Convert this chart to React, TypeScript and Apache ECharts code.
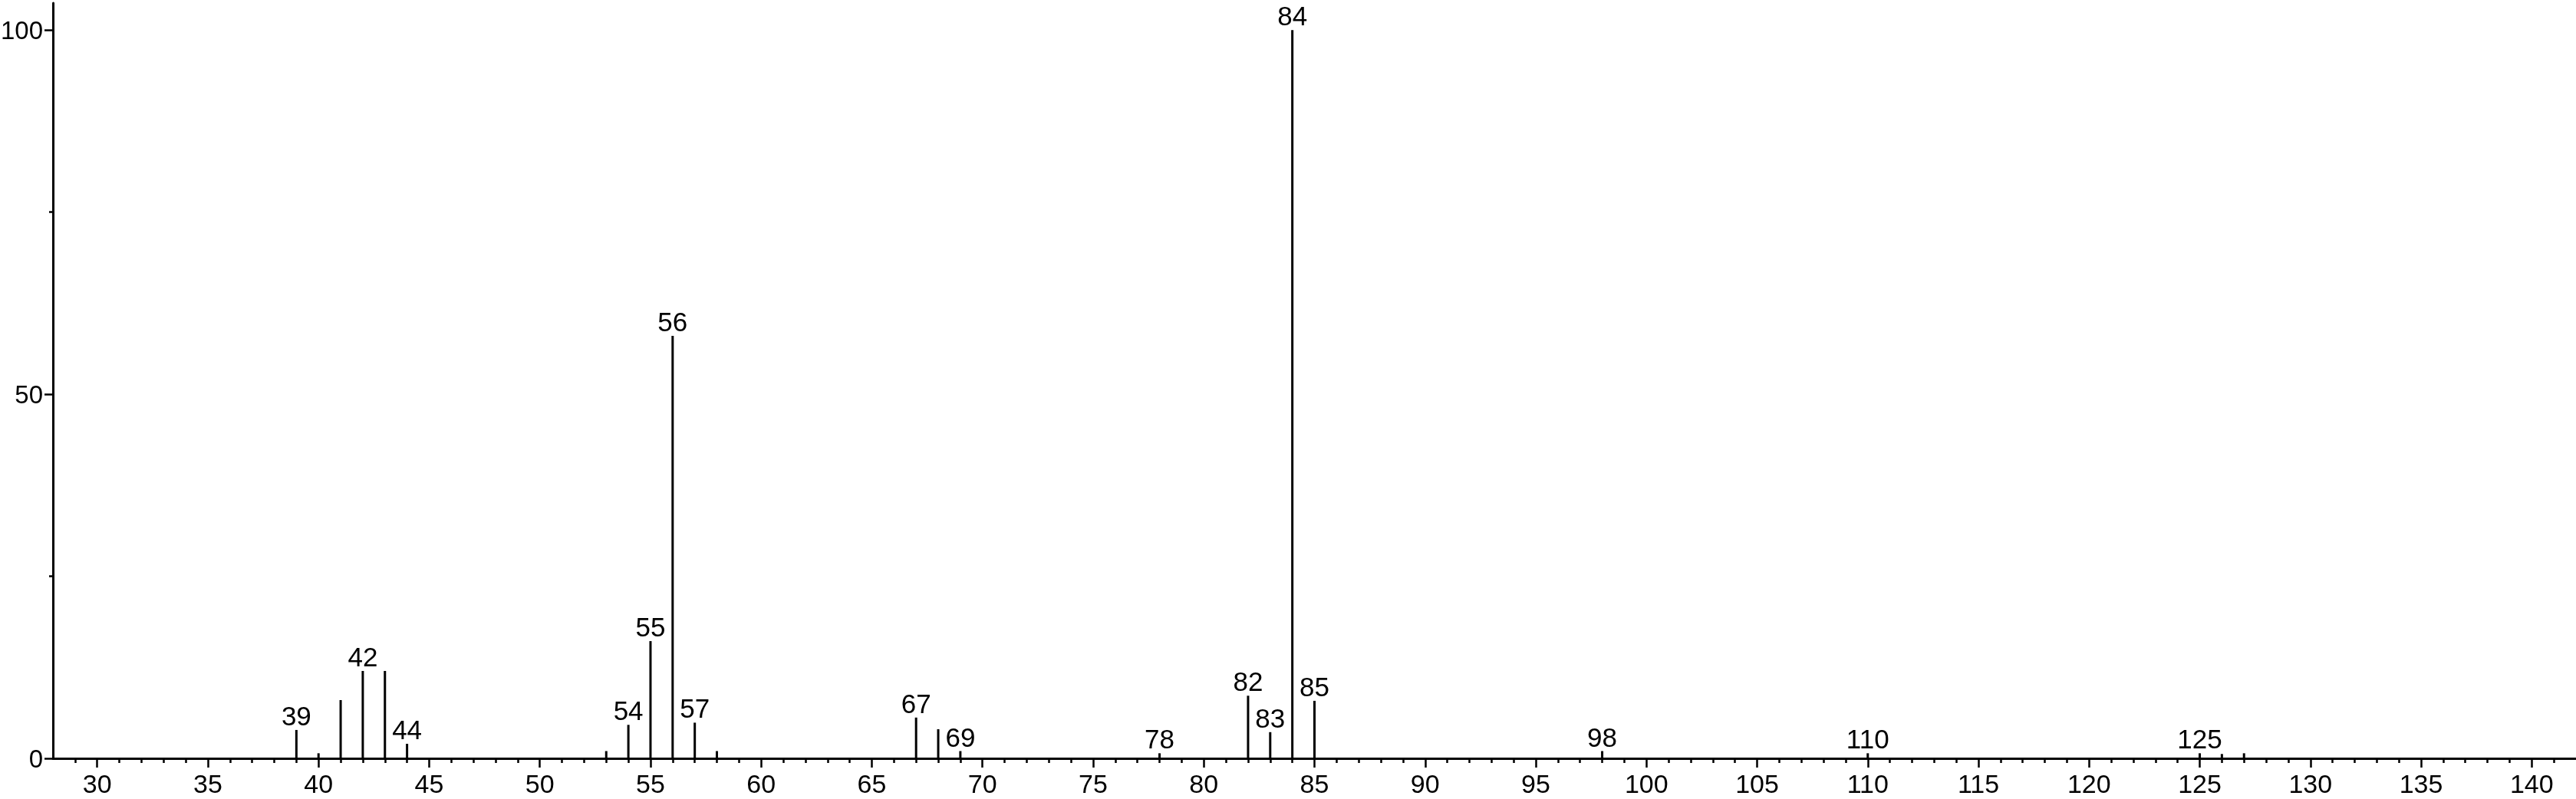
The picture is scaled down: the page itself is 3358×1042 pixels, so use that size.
import React, { useEffect, useRef } from "react";
import * as echarts from "echarts";

const mzValues = [39, 40, 41, 42, 43, 44, 53, 54, 55, 56, 57, 58, 67, 68, 69, 78, 82, 83, 84, 85, 98, 110, 125, 126, 127];
const intensities = [3.9, 0.7, 8, 12, 12, 2, 1, 4.6, 16.1, 58, 4.9, 1, 5.6, 4, 1, 0.7, 8.6, 3.6, 100, 7.9, 1, 0.7, 0.7, 0.6, 0.7];
const labeledPeaks = [39, 42, 44, 54, 55, 56, 57, 67, 69, 78, 82, 83, 84, 85, 98, 110, 125];
const xMajorTicks = [30, 35, 40, 45, 50, 55, 60, 65, 70, 75, 80, 85, 90, 95, 100, 105, 110, 115, 120, 125, 130, 135, 140];
const yMajorTicks = [0, 50, 100];
const yMinorTicks = [25, 75];
const X_MIN = 28;
const X_MAX = 142;
const Y_MIN = 0;
const Y_MAX = 103.7;

const FONT = "'Liberation Sans', Arial, sans-serif";

export default function App() {
  const ref = useRef<HTMLDivElement>(null);
  useEffect(() => {
    document.body.style.margin = "0";
    const chart = echarts.init(ref.current!, null, { renderer: "svg" });
    const xMinorTicks: number[] = [];
    for (let v = X_MIN + 1; v < X_MAX; v++) {
      if (!xMajorTicks.includes(v)) xMinorTicks.push(v);
    }
    const data = mzValues.map((mz, i) => ({
      value: [mz, intensities[i]],
      label: { show: labeledPeaks.includes(mz) },
    }));
    chart.setOption({
      animation: false,
      grid: { left: 69, right: 0, top: 4, bottom: 53, containLabel: false, outerBoundsMode: "none" },
      xAxis: [
        {
          type: "value",
          min: X_MIN,
          max: X_MAX,
          position: "bottom",
          splitLine: { show: false },
          axisLine: { show: true, onZero: false, lineStyle: { color: "#000", width: 3 } },
          axisTick: { show: true, length: 12, customValues: xMajorTicks, lineStyle: { color: "#000", width: 2.5 } },
          axisLabel: { show: true, customValues: xMajorTicks, margin: 16, color: "#000", fontSize: 34, fontFamily: FONT },
        },
        {
          type: "value",
          min: X_MIN,
          max: X_MAX,
          position: "bottom",
          splitLine: { show: false },
          axisLine: { show: false },
          axisTick: { show: true, length: 6, customValues: xMinorTicks, lineStyle: { color: "#000", width: 2.5 } },
          axisLabel: { show: false },
        },
      ],
      yAxis: [
        {
          type: "value",
          min: Y_MIN,
          max: Y_MAX,
          position: "left",
          splitLine: { show: false },
          axisLine: { show: true, onZero: false, lineStyle: { color: "#000", width: 3 } },
          axisTick: { show: true, length: 11, customValues: yMajorTicks, lineStyle: { color: "#000", width: 2.5 } },
          axisLabel: { show: true, customValues: yMajorTicks, margin: 13, color: "#000", fontSize: 33, fontFamily: FONT },
        },
        {
          type: "value",
          min: Y_MIN,
          max: Y_MAX,
          position: "left",
          splitLine: { show: false },
          axisLine: { show: false },
          axisTick: { show: true, length: 5, customValues: yMinorTicks, lineStyle: { color: "#000", width: 2.5 } },
          axisLabel: { show: false },
        },
      ],
      series: [
        {
          type: "bar",
          xAxisIndex: 0,
          yAxisIndex: 0,
          barWidth: 3,
          itemStyle: { color: "#000" },
          label: {
            show: false,
            position: "top",
            distance: 1,
            color: "#000",
            fontSize: 35,
            fontFamily: FONT,
            formatter: (p: any) => String(p.value[0]),
          },
          data,
        },
      ],
    });
    return () => chart.dispose();
  }, []);
  return <div ref={ref} style={{ position: "fixed", left: 0, top: 0, width: 3358, height: 1042 }} />;
}
